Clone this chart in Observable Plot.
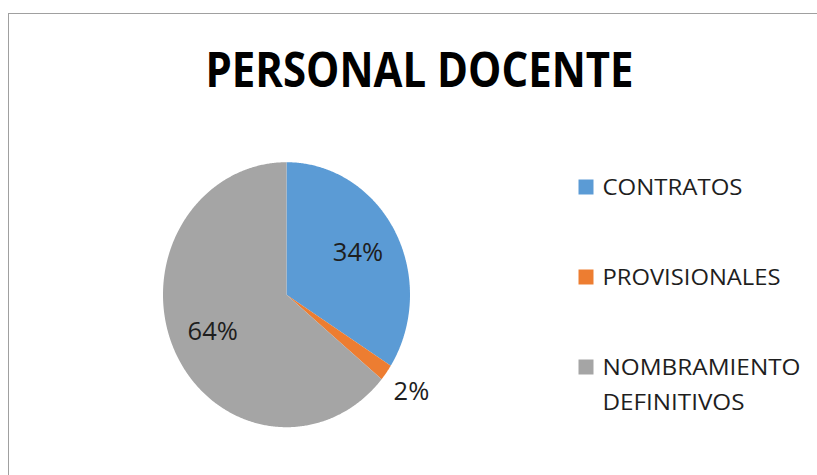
<!DOCTYPE html>
<html><head><meta charset="utf-8">
<script src="https://cdn.jsdelivr.net/npm/d3@7"></script>
<script src="https://cdn.jsdelivr.net/npm/@observablehq/plot@0.6"></script>
<style>
html,body{margin:0;padding:0;background:#fff;}
#wrap{position:relative;width:817px;height:475px;overflow:hidden;}
#border{position:absolute;left:8px;top:13px;width:900px;height:600px;border:1px solid #a0a0a0;}
#chart{position:absolute;left:0;top:0;}
</style></head><body>
<div id="wrap"><div id="border"></div><div id="chart"></div></div>
<script>
const title = "PERSONAL DOCENTE";
const categories = ["CONTRATOS", "PROVISIONALES", "NOMBRAMIENTO DEFINITIVOS"];
const values = [34, 2, 64];
const colors = ["#5B9BD5", "#ED7D31", "#A5A5A5"];
const legendLabels = ["CONTRATOS", "PROVISIONALES", "NOMBRAMIENTO\nDEFINITIVOS"];

const total = d3.sum(values);
let acc = 0;
const slices = categories.map((c, i) => {
  const a0 = acc / total * 2 * Math.PI;
  acc += values[i];
  const a1 = acc / total * 2 * Math.PI;
  return {cat: c, value: values[i], a0, a1};
});
const pts = [];
for (const s of slices) {
  pts.push({cat: s.cat, x: 0, y: 0});
  const n = Math.max(2, Math.ceil((s.a1 - s.a0) / (Math.PI / 360)));
  for (let k = 0; k <= n; k++) {
    const a = s.a0 + (s.a1 - s.a0) * k / n;
    pts.push({cat: s.cat, x: Math.sin(a), y: Math.cos(a)});
  }
  pts.push({cat: s.cat, x: 0, y: 0});
}
const labels = slices.map(s => {
  const pct = s.value / total * 100;
  const m = (s.a0 + s.a1) / 2;
  const r = pct < 5 ? 1.25 : 0.66;
  return {x: Math.sin(m) * r, y: Math.cos(m) * r, text: Math.round(pct) + "%"};
});

const legendMarks = [];
legendLabels.forEach((l, i) => {
  legendMarks.push(Plot.dot([categories[i]], {frameAnchor: "top-left", dx: 585.5, dy: 186.5 + 90 * i,
    symbol: "square", r: 8.46, fill: colors[i], stroke: null}));
  l.split("\n").forEach((s, j) => {
    legendMarks.push(Plot.text([s], {text: d => d, frameAnchor: "top-left", dx: 602, dy: 179 + 90 * i + 35 * j,
      textAnchor: "start", lineAnchor: "top", fontSize: 22.4, fill: "#1e1e1e", className: "lg"}));
  });
});

const chart = Plot.plot({
  width: 817, height: 475,
  margin: 0,
  style: {fontFamily: "'Open Sans', sans-serif", background: "transparent", overflow: "visible"},
  x: {domain: [-1, 1], range: [162.5, 409.5], axis: null},
  y: {domain: [-1, 1], range: [426.7, 161.7], axis: null},
  color: {domain: categories, range: colors},
  marks: [
    Plot.line(pts, {x: "x", y: "y", z: "cat", fill: "cat", stroke: null, curve: "linear"}),
    Plot.text(labels, {x: "x", y: "y", text: "text", fontSize: 25.5, fill: "#1e1e1e", lineAnchor: "middle"}),
    Plot.text([title], {text: d => d, frameAnchor: "top-left", dx: 419, dy: 52, textAnchor: "middle",
      lineAnchor: "top", fontSize: 49, fontWeight: "bold", fill: "#000", className: "ttl"}),
    ...legendMarks
  ]
});
document.getElementById("chart").appendChild(chart);
const widths = {"PERSONAL DOCENTE": 428, "CONTRATOS": 140, "PROVISIONALES": 178, "NOMBRAMIENTO": 198, "DEFINITIVOS": 142};
d3.select(chart).selectAll("text").each(function() {
  const w = widths[this.textContent];
  if (w) { this.setAttribute("textLength", w); this.setAttribute("lengthAdjust", "spacingAndGlyphs"); }
});
</script>
</body></html>
